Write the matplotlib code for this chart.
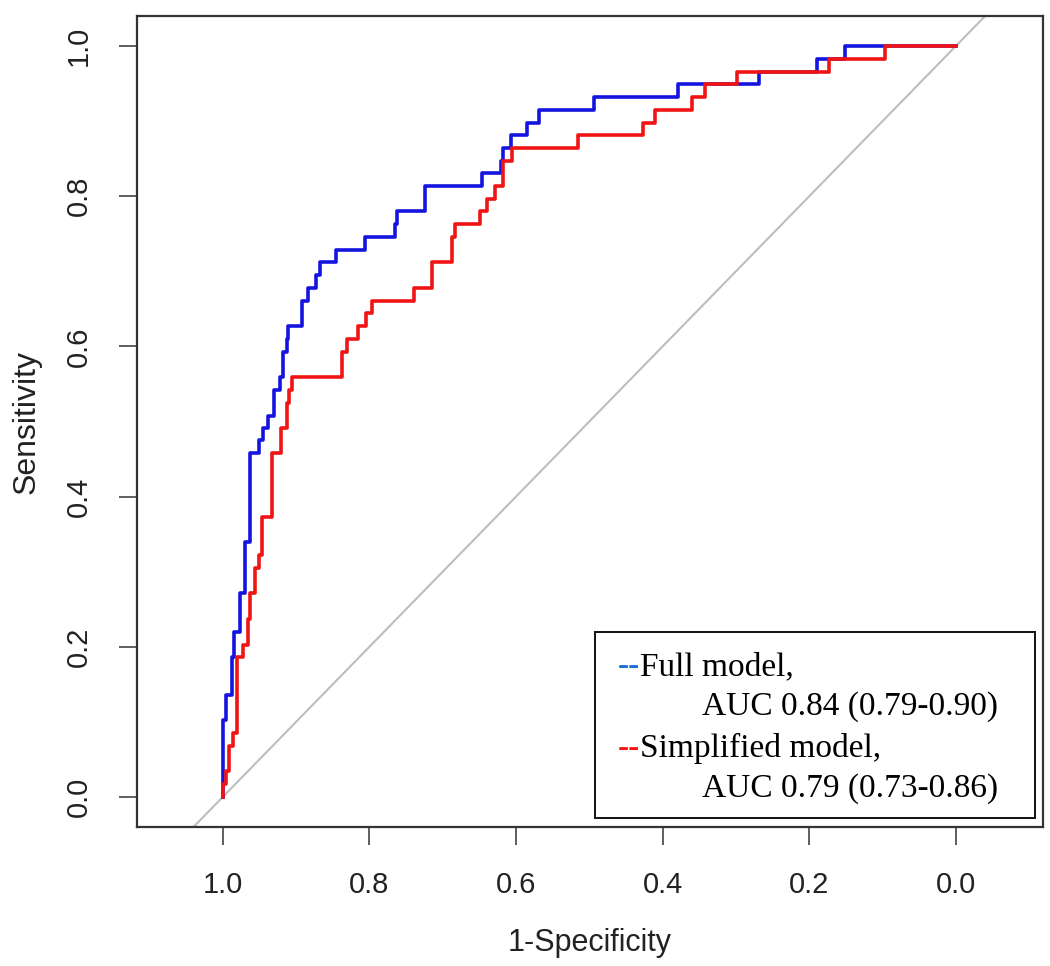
import matplotlib
matplotlib.use('Agg')
import matplotlib.pyplot as plt
from matplotlib.patches import Rectangle

# ROC step curves: x = specificity (axis runs 1 -> 0), y = sensitivity
full_spec = [1.000, 1.000, 0.996, 0.988, 0.985, 0.977, 0.970, 0.963, 0.950, 0.945,
             0.939, 0.930, 0.922, 0.918, 0.913, 0.911, 0.892, 0.884, 0.873, 0.868,
             0.846, 0.806, 0.765, 0.763, 0.724, 0.647, 0.621, 0.618, 0.607, 0.585,
             0.568, 0.494, 0.379, 0.269, 0.190, 0.151, 0.000]
full_sens = [0.000, 0.102, 0.136, 0.186, 0.220, 0.271, 0.339, 0.458, 0.475, 0.492,
             0.508, 0.542, 0.559, 0.593, 0.610, 0.627, 0.661, 0.678, 0.695, 0.712,
             0.729, 0.746, 0.763, 0.780, 0.814, 0.831, 0.847, 0.864, 0.881, 0.898,
             0.915, 0.932, 0.949, 0.966, 0.983, 1.000, 1.000]

simp_spec = [1.000, 1.000, 0.995, 0.992, 0.986, 0.980, 0.973, 0.966, 0.963, 0.956,
             0.951, 0.947, 0.933, 0.920, 0.913, 0.909, 0.906, 0.838, 0.831, 0.816,
             0.804, 0.797, 0.739, 0.715, 0.688, 0.683, 0.649, 0.640, 0.628, 0.618,
             0.606, 0.516, 0.427, 0.411, 0.360, 0.342, 0.299, 0.173, 0.097, 0.000]
simp_sens = [0.000, 0.017, 0.034, 0.068, 0.085, 0.186, 0.203, 0.237, 0.271, 0.305,
             0.322, 0.373, 0.458, 0.492, 0.525, 0.542, 0.559, 0.593, 0.610, 0.627,
             0.644, 0.661, 0.678, 0.712, 0.746, 0.763, 0.780, 0.797, 0.814, 0.847,
             0.864, 0.881, 0.898, 0.915, 0.932, 0.949, 0.966, 0.983, 1.000, 1.000]

ticks = [1.0, 0.8, 0.6, 0.4, 0.2, 0.0]
tick_labels = ['1.0', '0.8', '0.6', '0.4', '0.2', '0.0']

legend_names = ['Full model,', 'Simplified model,']
legend_auc = ['AUC 0.84 (0.79-0.90)', 'AUC 0.79 (0.73-0.86)']

BLUE = '#1414e0'
RED = '#f01414'
AXIS = '#222222'
SANS = 'Liberation Sans'
SERIF = 'Liberation Serif'

fig = plt.figure(figsize=(10.5, 9.66), dpi=100)
ax = fig.add_axes([0.1305, 0.1439, 0.8629, 0.8395])

ax.axline((1.0, 0.0), (0.0, 1.0), color='#bdbdbd', lw=1.5, zorder=1)
ax.step(full_spec, full_sens, where='post', color=BLUE, lw=2.6, zorder=3)
ax.step(simp_spec, simp_sens, where='post', color=RED, lw=2.6, zorder=4)

ax.set_xlim(1.117, -0.119)
ax.set_ylim(-0.04, 1.04)

ax.set_xticks(ticks)
ax.set_xticklabels(tick_labels, fontsize=21, family=SANS, color=AXIS)
ax.set_yticks(ticks)
ax.set_yticklabels(tick_labels, fontsize=21, family=SANS, color=AXIS,
                   rotation=90, va='center')
ax.tick_params(direction='out', length=13, width=1.2, color='#444444', pad=19)

for s in ax.spines.values():
    s.set_color('#333333')
    s.set_linewidth(1.6)

ax.set_xlabel('1-Specificity', fontsize=22, family=SANS, color=AXIS)
ax.set_ylabel('Sensitivity', fontsize=23, family=SANS, color=AXIS)
ax.xaxis.set_label_coords(0.5, -0.125)
ax.yaxis.set_label_coords(-0.105, 0.5)

# legend box drawn by hand (coloured dashes in front of serif text)
ax.add_patch(Rectangle((0.5055, 0.0105), 0.4855, 0.2295, transform=ax.transAxes,
                       facecolor='white', edgecolor='#111111', lw=1.4, zorder=5))
rows_y = [0.1874, 0.0863]
for name, auc, col, y in zip(legend_names, legend_auc, ['#1a6fd6', '#ff1010'], rows_y):
    dash = ax.text(0.531, y, '--', transform=ax.transAxes, fontsize=24, family=SERIF,
                   color=col, fontweight='bold', va='baseline', ha='left', zorder=6)
    ax.annotate(name, xy=(1, 0), xycoords=dash, fontsize=24, family=SERIF,
                color='black', va='bottom', ha='left', zorder=6)
    ax.text(0.6236, y - 0.0495, auc, transform=ax.transAxes, fontsize=24, family=SERIF,
            color='black', va='baseline', ha='left', zorder=6)

fig.savefig('out.png', dpi=100, facecolor='white')
